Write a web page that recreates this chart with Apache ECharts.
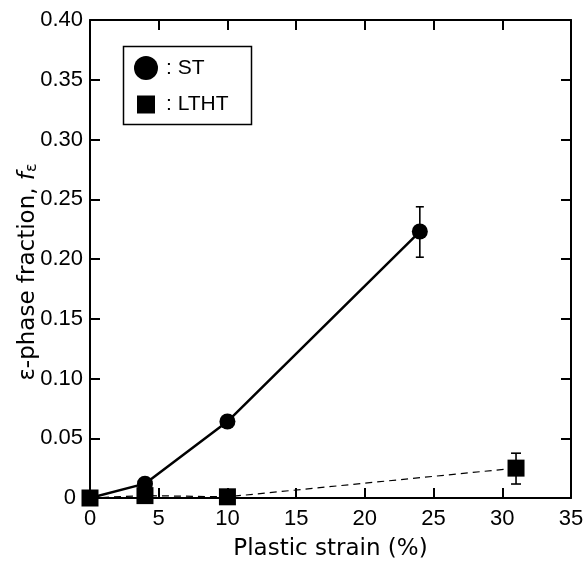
<!DOCTYPE html>
<html>
<head>
<meta charset="utf-8">
<script src="https://cdn.jsdelivr.net/npm/echarts@6/dist/echarts.min.js"></script>
<style>html,body{margin:0;padding:0;background:#fff;}#c{width:587px;height:566px;}</style>
</head>
<body>
<div id="c"></div>
<script>
// ---- data ----
var strainST = [0, 4, 10, 24];
var fracST = [0, 0.012, 0.064, 0.223];
var strainLTHT = [0, 4, 10, 31];
var fracLTHT = [0, 0.002, 0.001, 0.025];
// error bars: [strain, low, high]
var errST = [[24, 0.2015, 0.2437]];
var errLTHT = [[31, 0.0117, 0.0375]];
var xTicks = [0, 5, 10, 15, 20, 25, 30, 35];
var yTicks = [0, 0.05, 0.10, 0.15, 0.20, 0.25, 0.30, 0.35, 0.40];

var FONT = 'Liberation Sans, Arial, Helvetica, sans-serif';
var TFONT = 'DejaVu Sans, Liberation Sans, sans-serif';
function pairs(xs, ys) { return xs.map(function (x, i) { return [x, ys[i]]; }); }

function errRender(capHalf) {
  return function (params, api) {
    var x = api.value(0);
    var lo = api.coord([x, api.value(1)]);
    var hi = api.coord([x, api.value(2)]);
    var st = { stroke: '#000', lineWidth: 1.6 };
    return {
      type: 'group',
      children: [
        { type: 'line', shape: { x1: lo[0], y1: lo[1], x2: hi[0], y2: hi[1] }, style: st },
        { type: 'line', shape: { x1: lo[0] - capHalf, y1: lo[1], x2: lo[0] + capHalf, y2: lo[1] }, style: st },
        { type: 'line', shape: { x1: hi[0] - capHalf, y1: hi[1], x2: hi[0] + capHalf, y2: hi[1] }, style: st }
      ]
    };
  };
}

var axisCommon = {
  axisLine: { show: true, onZero: false, lineStyle: { color: '#000', width: 2 } },
  axisTick: { show: true, inside: true, length: 10, lineStyle: { color: '#000', width: 2 } },
  splitLine: { show: false }
};

var chart = echarts.init(document.getElementById('c'), null, { renderer: 'canvas' });
chart.setOption({
  animation: false,
  backgroundColor: '#fff',
  textStyle: { fontFamily: FONT },
  grid: { left: 90, right: 16, top: 20, bottom: 68 },
  xAxis: [
    Object.assign({
      type: 'value', min: xTicks[0], max: xTicks[xTicks.length - 1], interval: 5,
      name: 'Plastic strain (%)', nameLocation: 'middle', nameGap: 40, nameMoveOverlap: false,
      nameTextStyle: { fontSize: 23, color: '#000', fontFamily: TFONT },
      axisLabel: { fontSize: 22, color: '#000', margin: 10, fontFamily: FONT }
    }, axisCommon),
    Object.assign({
      type: 'value', position: 'top', min: xTicks[0], max: xTicks[xTicks.length - 1], interval: 5,
      axisLabel: { show: false }
    }, axisCommon)
  ],
  yAxis: [
    Object.assign({
      type: 'value', min: yTicks[0], max: yTicks[yTicks.length - 1], interval: 0.05,
      name: '{a|ε-phase fraction, }{i|f}{s|ε}', nameLocation: 'middle', nameGap: 50, nameRotate: 90,
      nameMoveOverlap: false,
      nameTextStyle: {
        color: '#000', fontFamily: TFONT, fontSize: 23,
        rich: {
          a: { fontSize: 23, color: '#000', fontFamily: TFONT },
          i: { fontSize: 23, color: '#000', fontStyle: 'italic', fontFamily: TFONT },
          s: { fontSize: 16, color: '#000', fontFamily: TFONT, padding: [8, 26, 0, 0] }
        }
      },
      axisLabel: {
        fontSize: 22, color: '#000', margin: 7, fontFamily: FONT,
        formatter: function (v) { return v === 0 ? '{z|0}' : v.toFixed(2); },
        rich: { z: { fontSize: 22, color: '#000', fontFamily: FONT, padding: [0, 7, 0, 0] } }
      }
    }, axisCommon),
    Object.assign({
      type: 'value', position: 'right', min: yTicks[0], max: yTicks[yTicks.length - 1], interval: 0.05,
      axisLabel: { show: false }
    }, axisCommon)
  ],
  legend: [
    {
      data: [{ name: 'ST', icon: 'circle' }],
      left: 134, top: 56, padding: 0, itemWidth: 24, itemHeight: 24, itemGap: 5,
      formatter: ': {name}',
      textStyle: { fontSize: 21, color: '#000', fontFamily: FONT, padding: [0, 0, 0, 3] },
      selectedMode: false
    },
    {
      data: [{ name: 'LTHT', icon: 'rect' }],
      left: 137, top: 94, padding: 0, itemWidth: 18, itemHeight: 18,
      formatter: ': {name}',
      textStyle: { fontSize: 21, color: '#000', fontFamily: FONT, padding: [0, 0, 0, 6] },
      selectedMode: false
    }
  ],
  graphic: [
    { type: 'rect', left: 121, top: 44, shape: { width: 128, height: 78 }, style: { fill: 'none', stroke: '#000', lineWidth: 1.5 }, z: 100 }
  ],
  series: [
    {
      name: 'ST', type: 'line', data: pairs(strainST, fracST), clip: false,
      symbol: 'circle', symbolSize: 16,
      lineStyle: { color: '#000', width: 2.5 },
      itemStyle: { color: '#000' }, z: 3
    },
    {
      name: 'ST-err', type: 'custom', data: errST, renderItem: errRender(4), clip: false, z: 2
    },
    {
      name: 'LTHT', type: 'line', data: pairs(strainLTHT, fracLTHT), clip: false,
      symbol: 'rect', symbolSize: 17,
      lineStyle: { color: '#000', width: 1.2, type: [7, 5] },
      itemStyle: { color: '#000' }, z: 4
    },
    {
      name: 'LTHT-err', type: 'custom', data: errLTHT, renderItem: errRender(5), clip: false, z: 2
    }
  ]
});
</script>
</body>
</html>
